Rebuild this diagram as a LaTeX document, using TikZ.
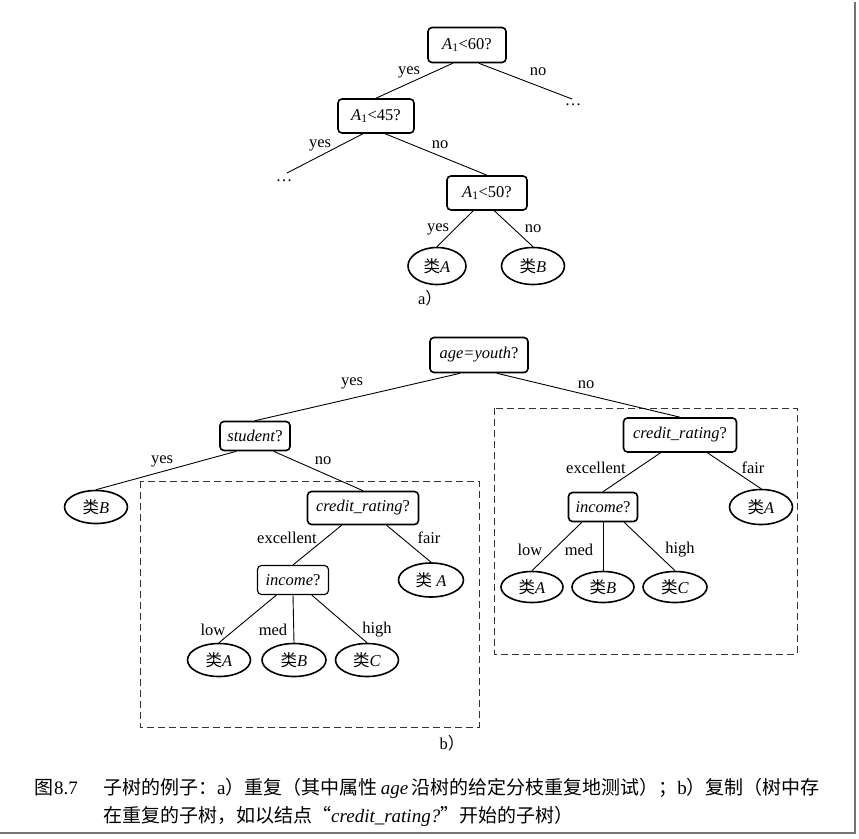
\documentclass[tikz,border=0pt]{standalone}
\usepackage{fontspec}
\setmainfont{Liberation Serif}
\newfontfamily\cjk{Noto Sans CJK SC}
\usetikzlibrary{shapes.geometric,calc}
\tikzset{
 test/.style={draw, rounded corners=4pt, line width=1.6pt, inner sep=0pt, font=\fontsize{16.5}{18}\selectfont},
 leaf/.style={draw, ellipse, line width=1.6pt, inner sep=0pt, font=\fontsize{16.5}{18}\selectfont},
 edge/.style={line width=0.9pt},
 lab/.style={font=\fontsize{16.5}{18}\selectfont, inner sep=0pt},
 frame/.style={draw=black!80, dash pattern=on 7pt off 4pt, line width=1pt},
 capt/.style={anchor=base west, inner sep=0pt, font=\fontsize{19}{22}\selectfont},
 shadow/.style={draw=black!55, line width=2.5pt}
}
\newcommand{\lei}{{\cjk 类}}
\begin{document}
\begin{tikzpicture}[x=1pt,y=-1pt]
\useasboundingbox (0,0) rectangle (859,838);
\fill[white] (0,0) rectangle (859,838);
\draw[shadow] (855,2) -- (855,833) -- (0,833);

% ---------- a) ----------
\node[test, minimum width=78pt, minimum height=35pt] (a60) at (467,45) {\textit{A}\textsubscript{1}<60?};
\node[test, minimum width=76pt, minimum height=34pt] (a45) at (376,116) {\textit{A}\textsubscript{1}<45?};
\node[test, minimum width=80pt, minimum height=34pt] (a50) at (487,193) {\textit{A}\textsubscript{1}<50?};
\node[leaf, minimum width=58pt, minimum height=37pt] (cA) at (437,266) {\lei\textit{A}};
\node[leaf, minimum width=63pt, minimum height=37pt] (cB) at (533,266) {\lei\textit{B}};
\coordinate (d1) at (572,99);
\coordinate (d2) at (287,173);
\node[lab] (dots1) at (573,105) {\ldots};
\node[lab] (dots2) at (284,181) {\ldots};

\draw[edge] ($(a60.south west)!0.32!(a60.south east)$) -- (a45.north);
\draw[edge] ($(a60.south west)!0.65!(a60.south east)$) -- (d1);
\draw[edge] ($(a45.south west)!0.33!(a45.south east)$) -- (d2);
\draw[edge] ($(a45.south west)!0.62!(a45.south east)$) -- (a50.north);
\draw[edge] ($(a50.south west)!0.33!(a50.south east)$) -- (cA.north);
\draw[edge] ($(a50.south west)!0.59!(a50.south east)$) -- (cB.north);

\node[lab] (l1) at (409,72) {yes};
\node[lab] (l2) at (538,72) {no};
\node[lab] (l3) at (320,145) {yes};
\node[lab] (l4) at (440,145) {no};
\node[lab] (l5) at (438,229) {yes};
\node[lab] (l6) at (533,229) {no};
\node[lab] (capa) at (430,298) {a{\cjk ）}};

% ---------- b) ----------
\draw[frame] (140,481) rectangle (479,727);
\draw[frame] (494,408) rectangle (797,654);

\node[test, minimum width=98pt, minimum height=35pt] (age) at (479,355) {\textit{age=youth}?};
\node[test, minimum width=70pt, minimum height=29pt] (stu) at (255,436) {\textit{student}?};
\node[leaf, minimum width=63pt, minimum height=33pt] (sB) at (96,507) {\lei\textit{B}};

\node[test, minimum width=111pt, minimum height=33pt] (crL) at (363,508) {\textit{credit\_rating}?};
\node[test, minimum width=71pt, minimum height=29pt, line width=1.1pt] (incL) at (293,580) {\textit{income}?};
\node[leaf, minimum width=65pt, minimum height=34pt] (fL) at (431,580) {\lei\ \textit{A}};
\node[leaf, minimum width=63pt, minimum height=33pt] (lowL) at (219,660) {\lei\textit{A}};
\node[leaf, minimum width=64pt, minimum height=33pt] (medL) at (294,660) {\lei\textit{B}};
\node[leaf, minimum width=63pt, minimum height=33pt] (highL) at (367,660) {\lei\textit{C}};

\node[test, minimum width=113pt, minimum height=34pt] (crR) at (680,435) {\textit{credit\_rating}?};
\node[test, minimum width=69pt, minimum height=29pt] (incR) at (603,507) {\textit{income}?};
\node[leaf, minimum width=63pt, minimum height=35pt] (fR) at (761,507) {\lei\textit{A}};
\node[leaf, minimum width=62pt, minimum height=31pt] (lowR) at (532,587) {\lei\textit{A}};
\node[leaf, minimum width=62pt, minimum height=31pt] (medR) at (603,587) {\lei\textit{B}};
\node[leaf, minimum width=64pt, minimum height=31pt] (highR) at (675,587) {\lei\textit{C}};

\draw[edge] ($(age.south west)!0.31!(age.south east)$) -- (stu.north);
\draw[edge] ($(age.south west)!0.68!(age.south east)$) -- (crR.north);
\draw[edge] ($(stu.south west)!0.24!(stu.south east)$) -- (sB.north);
\draw[edge] ($(stu.south west)!0.76!(stu.south east)$) -- (crL.north);
\draw[edge] ($(crL.south west)!0.31!(crL.south east)$) -- (incL.north);
\draw[edge] ($(crL.south west)!0.71!(crL.south east)$) -- (fL.north);
\draw[edge] ($(incL.south west)!0.27!(incL.south east)$) -- (lowL.north);
\draw[edge] (incL.south) -- (medL.north);
\draw[edge] ($(incL.south west)!0.76!(incL.south east)$) -- (highL.north);
\draw[edge] ($(crR.south west)!0.33!(crR.south east)$) -- (incR.north);
\draw[edge] ($(crR.south west)!0.74!(crR.south east)$) -- (fR.north);
\draw[edge] ($(incR.south west)!0.2!(incR.south east)$) -- (lowR.north);
\draw[edge] (incR.south) -- (medR.north);
\draw[edge] ($(incR.south west)!0.8!(incR.south east)$) -- (highR.north);

\node[lab] (m1) at (352,383) {yes};
\node[lab] (m2) at (586,385) {no};
\node[lab] (m3) at (162,461) {yes};
\node[lab] (m4) at (323,461) {no};
\node[lab] (m5) at (287,538) {excellent};
\node[lab] (m6) at (429,538) {fair};
\node[lab] (m7) at (213,630) {low};
\node[lab] (m8) at (273,630) {med};
\node[lab] (m9) at (377,630) {high};
\node[lab] (m10) at (596,468) {excellent};
\node[lab] (m11) at (753,468) {fair};
\node[lab] (m12) at (530,550) {low};
\node[lab] (m13) at (579,550) {med};
\node[lab] (m14) at (680,550) {high};
\node[lab] (capb) at (452,743) {b{\cjk ）}};

% ---------- caption ----------
\node[capt] (cap0) at (34,794) {{\cjk 图}\kern1pt 8.7};
\node[capt] (cap1) at (103,794) {{\cjk 子树的例子：}a{\cjk ）重复（其中属性}\,\textit{age}\,{\cjk 沿树的给定分枝重复地测试）；}b{\cjk ）复制（树中存}};
\node[capt] (cap2) at (103,822) {{\cjk 在重复的子树，如以结点“}\textit{credit\_rating?}{\cjk ”开始的子树）}};
\end{tikzpicture}
\end{document}
